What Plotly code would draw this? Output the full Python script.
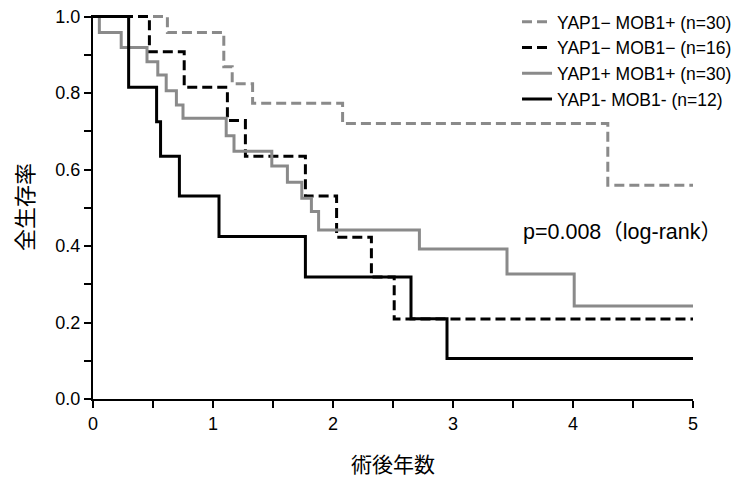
import plotly.graph_objects as go

# ---- data ----
series_names = [
    "YAP1− MOB1+ (n=30)",
    "YAP1− MOB1− (n=16)",
    "YAP1+ MOB1+ (n=30)",
    "YAP1- MOB1- (n=12)",
]

t_neg_pos = [0, 0.62, 1.09, 1.16, 1.33, 2.08, 4.29, 5]
s_neg_pos = [1.0, 0.958, 0.869, 0.824, 0.773, 0.720, 0.559, 0.559]

t_neg_neg16 = [0, 0.47, 0.76, 1.12, 1.27, 1.77, 2.03, 2.32, 2.51, 5]
s_neg_neg16 = [1.0, 0.908, 0.815, 0.728, 0.635, 0.531, 0.423, 0.319, 0.209, 0.209]

t_pos_pos = [0, 0.053, 0.235, 0.45, 0.54, 0.61, 0.695, 0.75, 1.11, 1.175,
             1.49, 1.62, 1.74, 1.82, 1.88, 2.72, 3.45, 4.01, 5]
s_pos_pos = [1.0, 0.958, 0.919, 0.882, 0.847, 0.806, 0.769, 0.734, 0.688, 0.648,
             0.609, 0.567, 0.525, 0.49, 0.442, 0.392, 0.327, 0.243, 0.243]

t_neg_neg12 = [0, 0.297, 0.53, 0.563, 0.72, 1.05, 1.77, 2.65, 2.95, 5]
s_neg_neg12 = [1.0, 0.815, 0.725, 0.635, 0.531, 0.425, 0.319, 0.21, 0.106, 0.106]

x_ticks = [0, 1, 2, 3, 4, 5]
y_ticks = [0.0, 0.2, 0.4, 0.6, 0.8, 1.0]
p_text = "p=0.008（log-rank）"
x_title = "術後年数"
y_title = "全生存率"

# ---- styles ----
GRAY = "#8a8a8a"
styles = [
    dict(color=GRAY, width=3, dash="10px,5px"),
    dict(color="black", width=3, dash="10px,5px"),
    dict(color=GRAY, width=3),
    dict(color="black", width=3),
]
data = [(t_neg_pos, s_neg_pos), (t_neg_neg16, s_neg_neg16),
        (t_pos_pos, s_pos_pos), (t_neg_neg12, s_neg_neg12)]

LAT = "Liberation Sans, Arial, Noto Sans CJK JP, sans-serif"
CJK = "Noto Sans CJK JP, sans-serif"

fig = go.Figure()
for name, (t, s), st in zip(series_names, data, styles):
    fig.add_trace(go.Scatter(x=t, y=s, mode="lines", line_shape="hv",
                             name=name, line=st))

fig.add_annotation(x=4.41, y=0.437, xref="x", yref="y", text=p_text,
                   showarrow=False, font=dict(family=LAT, size=21.5, color="black"))

axis_common = dict(showline=True, linecolor="black", linewidth=2,
                   ticks="outside", ticklen=7, tickwidth=2, tickcolor="black",
                   showgrid=False, zeroline=False,
                   tickfont=dict(family=LAT, size=18, color="black"))

fig.update_layout(
    width=739, height=479,
    margin=dict(l=93, r=46, t=15, b=80, autoexpand=False),
    paper_bgcolor="white", plot_bgcolor="white",
    xaxis=dict(range=[0, 5], tickvals=x_ticks,
               minor=dict(dtick=0.5, ticks="outside", ticklen=7, tickwidth=2, tickcolor="black"),
               title=dict(text=x_title, font=dict(family=CJK, size=21, color="black"), standoff=25),
               **axis_common),
    yaxis=dict(range=[0, 1.004], tickvals=y_ticks, tickformat=".1f",
               minor=dict(dtick=0.1, ticks="outside", ticklen=7, tickwidth=2, tickcolor="black"),
               title=dict(text=y_title, font=dict(family=CJK, size=22, color="black"), standoff=16),
               **axis_common),
    legend=dict(x=0.7067, y=1.029, xanchor="left", yanchor="top",
                bgcolor="rgba(0,0,0,0)", font=dict(family=LAT, size=17.5, color="black")),
    showlegend=True,
)

fig.write_html("out.html")
